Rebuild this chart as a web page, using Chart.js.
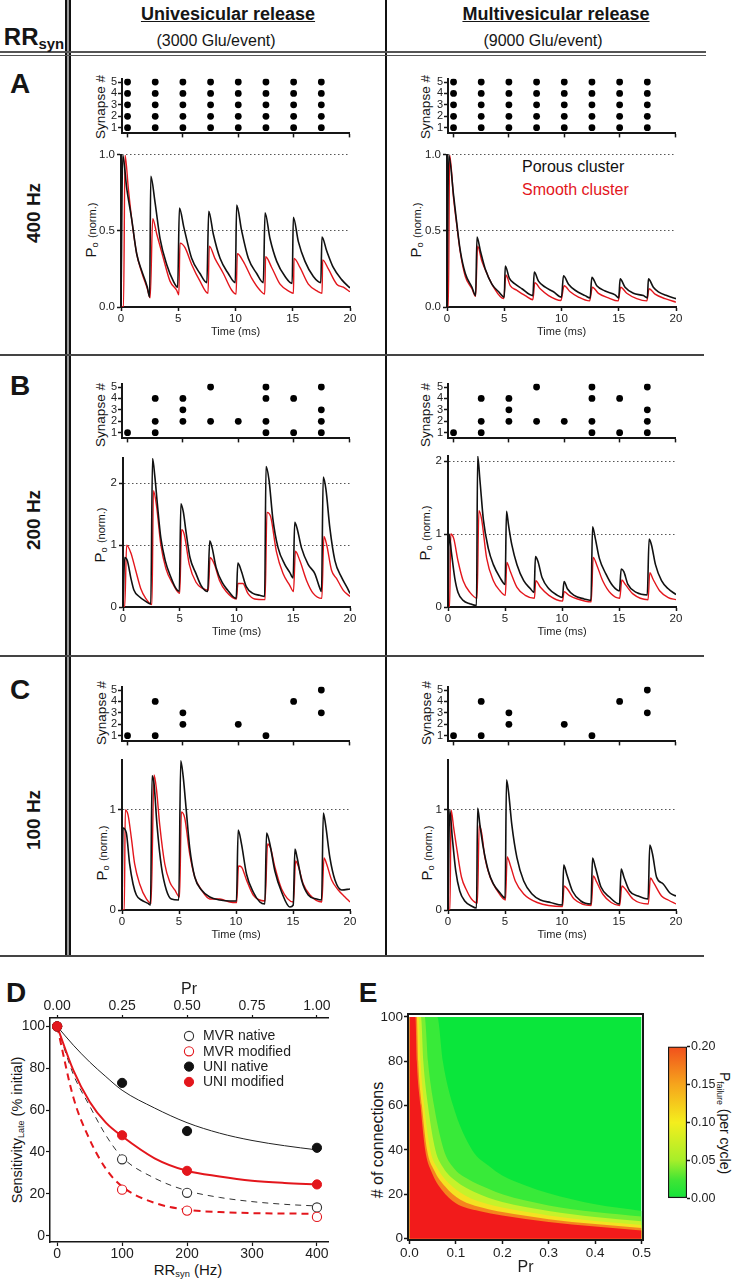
<!DOCTYPE html>
<html>
<head>
<meta charset="utf-8">
<script src="https://cdn.jsdelivr.net/npm/chart.js@4.4.1/dist/chart.umd.min.js"></script>
<style>
  body { margin: 0; background: #fff; }
  #fig { position: relative; width: 732px; height: 1280px; overflow: hidden; background: #fff;
         font-family: "Liberation Sans", Arial, sans-serif; color: #151515; }
  .box { position: absolute; }
  .c { position: absolute; transform: translate(-50%, -50%); white-space: nowrap; line-height: 1; }
  .c.up { transform: translate(-50%, -50%) rotate(-90deg); }
  .c.down { transform: translate(-50%, -50%) rotate(90deg); }
  .rule { position: absolute; }
  sub { font-size: 0.62em; vertical-align: -0.3em; line-height: 0; }
  .hd { font-weight: bold; font-size: 18px; text-decoration: underline; }
  .glu { font-size: 16px; }
  .panel { font-weight: bold; font-size: 28px; }
  .hz { font-weight: bold; font-size: 19px; }
  .syn { font-size: 13.5px; }
  .po { font-size: 15px; }
  .po small { font-size: 11px; }
  .leg { font-size: 16px; }
</style>
</head>
<body>
<div id="fig">
  <!-- table rules -->
  <div class="rule" style="left:65px;top:0;width:2px;height:956px;background:#111"></div>
  <div class="rule" style="left:67px;top:0;width:2px;height:956px;background:#999"></div>
  <div class="rule" style="left:69px;top:0;width:2px;height:956px;background:#111"></div>
  <div class="rule" style="left:385px;top:0;width:2px;height:956px;background:#111"></div>
  <div class="rule" style="left:0;top:51px;width:706px;height:1.5px;background:#555"></div>
  <div class="rule" style="left:0;top:54.5px;width:706px;height:1.5px;background:#555"></div>
  <div class="rule" style="left:0;top:354px;width:704px;height:2px;background:#444"></div>
  <div class="rule" style="left:0;top:655px;width:704px;height:2px;background:#444"></div>
  <div class="rule" style="left:0;top:955px;width:704px;height:2px;background:#444"></div>

  <!-- header -->
  <div class="c" style="left:34px;top:37px;font-weight:bold;font-size:24px">RR<sub>syn</sub></div>
  <div class="c hd" style="left:228px;top:14px">Univesicular release</div>
  <div class="c glu" style="left:216px;top:41px">(3000 Glu/event)</div>
  <div class="c hd" style="left:556px;top:14px">Multivesicular release</div>
  <div class="c glu" style="left:543px;top:41px">(9000 Glu/event)</div>

  <!-- row labels -->
  <div class="c panel" style="left:20px;top:84px">A</div>
  <div class="c up hz" style="left:33px;top:213px">400 Hz</div>
  <div class="c panel" style="left:20px;top:386px">B</div>
  <div class="c up hz" style="left:33px;top:520px">200 Hz</div>
  <div class="c panel" style="left:20px;top:690px">C</div>
  <div class="c up hz" style="left:33px;top:820px">100 Hz</div>

  <!-- axis titles of the trace panels -->
  <div class="c up syn" style="left:101px;top:107px">Synapse #</div>
  <div class="c up syn" style="left:426px;top:107px">Synapse #</div>
  <div class="c up syn" style="left:101px;top:415px">Synapse #</div>
  <div class="c up syn" style="left:426px;top:415px">Synapse #</div>
  <div class="c up syn" style="left:102px;top:713px">Synapse #</div>
  <div class="c up syn" style="left:427px;top:713px">Synapse #</div>
  <div class="c up po" style="left:90px;top:230px">P<sub>o</sub> <small>(norm.)</small></div>
  <div class="c up po" style="left:415px;top:230px">P<sub>o</sub> <small>(norm.)</small></div>
  <div class="c up po" style="left:99px;top:535px">P<sub>o</sub> <small>(norm.)</small></div>
  <div class="c up po" style="left:424px;top:533px">P<sub>o</sub> <small>(norm.)</small></div>
  <div class="c up po" style="left:101px;top:853px">P<sub>o</sub> <small>(norm.)</small></div>
  <div class="c up po" style="left:426px;top:853px">P<sub>o</sub> <small>(norm.)</small></div>

  <div class="leg" style="position:absolute;left:522px;top:158px;color:#111">Porous cluster</div>
  <div class="leg" style="position:absolute;left:522px;top:181px;color:#e3161c">Smooth cluster</div>

  <!-- panel D / E labels -->
  <div class="c panel" style="left:16px;top:993px">D</div>
  <div class="c up" style="left:17px;top:1130px;font-size:14.5px">Sensitivity<sub>Late</sub> (% initial)</div>
  <div class="c" style="left:188px;top:1269px;font-size:15px">RR<sub>syn</sub> (Hz)</div>
  <div class="c panel" style="left:368px;top:993px">E</div>
  <div class="c up" style="left:378px;top:1140px;font-size:16px"># of connections</div>
  <div class="c down" style="left:725px;top:1123px;font-size:14px">P<sub>failure</sub> (per cycle)</div>
</div>

<script>
// ---- values ----
const pulseTimes = [0, 2.5, 5, 7.5, 10, 12.5, 15, 17.5];
const synapseIds = [1, 2, 3, 4, 5];
const timeTicks = [0, 5, 10, 15, 20];

// which synapses release at each pulse
const release400 = [[1,2,3,4,5],[1,2,3,4,5],[1,2,3,4,5],[1,2,3,4,5],[1,2,3,4,5],[1,2,3,4,5],[1,2,3,4,5],[1,2,3,4,5]];
const release200 = [[1],[1,2,4],[2,3,4],[2,5],[2],[1,2,4,5],[1,4],[1,2,3,5]];
const release100 = [[1],[1,4],[2,3],[],[2],[1],[4],[3,5]];

// Po (norm.) traces, [time ms, value]
const uni400Porous = [[0,0],[0.15,1.0],[0.5,0.78],[0.93,0.58],[1.37,0.35],[1.8,0.24],[2.3,0.13],[2.5,0.065],[2.6,0.86],[2.97,0.69],[3.41,0.45],[3.99,0.28],[4.57,0.17],[4.95,0.13],[5.1,0.65],[5.5,0.52],[6.17,0.32],[6.9,0.22],[7.5,0.16],[7.66,0.63],[8.06,0.48],[8.65,0.32],[9.37,0.22],[9.98,0.16],[10.1,0.67],[10.54,0.5],[11.12,0.32],[11.85,0.22],[12.43,0.16],[12.58,0.62],[13.01,0.45],[13.6,0.3],[14.33,0.2],[14.95,0.155],[15.05,0.59],[15.49,0.43],[16.07,0.3],[16.8,0.2],[17.45,0.16],[17.55,0.46],[17.96,0.37],[18.54,0.26],[19.27,0.18],[20,0.125]];
const uni400Smooth = [[0,0],[0.22,0],[0.35,1.0],[0.64,0.78],[0.93,0.58],[1.37,0.35],[1.8,0.23],[2.3,0.12],[2.55,0.06],[2.77,0.58],[3.12,0.48],[3.7,0.32],[4.28,0.17],[4.86,0.11],[5.05,0.08],[5.15,0.42],[5.59,0.39],[6.17,0.28],[6.9,0.17],[7.6,0.09],[7.71,0.4],[8.2,0.32],[8.94,0.22],[9.67,0.11],[10.05,0.085],[10.16,0.35],[10.68,0.3],[11.41,0.19],[12.14,0.11],[12.55,0.085],[12.63,0.33],[13.16,0.26],[13.89,0.15],[14.76,0.1],[15.06,0.09],[15.11,0.32],[15.63,0.26],[16.36,0.15],[17.23,0.1],[17.56,0.09],[17.61,0.31],[18.11,0.25],[18.84,0.15],[19.42,0.13],[20,0.1]];
const mvr400Porous = [[0,0],[0.15,1.0],[0.58,0.73],[0.87,0.54],[1.16,0.37],[1.6,0.22],[2.18,0.13],[2.5,0.075],[2.62,0.46],[2.91,0.37],[3.34,0.25],[3.92,0.15],[4.51,0.1],[5.0,0.065],[5.09,0.27],[5.44,0.19],[5.96,0.15],[6.54,0.12],[7.5,0.075],[7.62,0.23],[7.99,0.17],[8.58,0.13],[9.3,0.1],[10.0,0.065],[10.17,0.205],[10.61,0.15],[11.19,0.11],[12.06,0.075],[12.5,0.06],[12.65,0.195],[13.08,0.14],[13.81,0.105],[14.68,0.08],[15.0,0.06],[15.12,0.185],[15.55,0.13],[16.28,0.09],[17.15,0.075],[17.5,0.06],[17.59,0.185],[18.02,0.13],[18.46,0.1],[19.19,0.075],[20,0.055]];
const mvr400Smooth = [[0,0],[0.12,0],[0.23,1.0],[0.58,0.71],[0.87,0.53],[1.16,0.36],[1.6,0.2],[2.18,0.12],[2.5,0.07],[2.67,0.4],[3.05,0.3],[3.49,0.22],[4.07,0.13],[4.95,0.055],[5.15,0.21],[5.52,0.14],[6.1,0.11],[6.83,0.075],[7.5,0.048],[7.67,0.16],[8.14,0.12],[8.87,0.075],[9.95,0.043],[10.23,0.14],[10.76,0.1],[11.48,0.065],[12.45,0.04],[12.7,0.13],[13.23,0.09],[14.1,0.06],[14.95,0.04],[15.17,0.13],[15.7,0.09],[16.57,0.055],[17.45,0.04],[17.65,0.12],[18.17,0.085],[19.04,0.055],[20,0.032]];

const uni200Porous = [[0,0],[0.15,0.8],[0.38,0.75],[0.68,0.48],[0.97,0.27],[1.42,0.17],[2.0,0.09],[2.45,0.05],[2.6,2.4],[2.8,2.12],[3.04,1.64],[3.33,1.12],[3.72,0.75],[4.22,0.48],[4.66,0.3],[4.96,0.25],[5.1,1.67],[5.31,1.54],[5.55,1.22],[5.9,0.8],[6.43,0.54],[6.87,0.35],[7.46,0.25],[7.64,1.07],[7.85,0.96],[8.2,0.64],[8.79,0.38],[9.23,0.27],[9.68,0.17],[9.97,0.14],[10.12,0.71],[10.41,0.59],[10.86,0.33],[11.45,0.22],[12.04,0.19],[12.48,0.17],[12.6,2.27],[12.86,2.06],[13.2,1.43],[13.66,0.96],[14.25,0.69],[14.69,0.56],[14.99,0.47],[15.13,1.37],[15.34,1.27],[15.72,0.96],[16.31,0.69],[16.9,0.54],[17.35,0.3],[17.49,0.25],[17.64,2.1],[17.88,1.9],[18.23,1.27],[18.67,0.75],[19.26,0.48],[19.7,0.33],[20,0.22]];
const uni200Smooth = [[0,0],[0.15,0],[0.32,1.0],[0.68,0.88],[1.12,0.59],[1.56,0.3],[2.0,0.14],[2.55,0.04],[2.68,1.88],[2.95,1.64],[3.33,1.01],[3.78,0.62],[4.37,0.38],[5.0,0.22],[5.16,1.25],[5.4,1.17],[5.84,0.69],[6.43,0.4],[7.02,0.3],[7.52,0.27],[7.67,0.8],[8.05,0.69],[8.5,0.43],[9.09,0.25],[10.0,0.13],[10.12,0.38],[10.56,0.38],[11.0,0.22],[11.6,0.13],[12.52,0.12],[12.68,1.53],[13.01,1.46],[13.51,0.9],[14.1,0.54],[14.69,0.35],[15.02,0.25],[15.19,0.9],[15.58,0.75],[16.17,0.43],[16.76,0.22],[17.52,0.14],[17.7,1.14],[17.94,1.01],[18.38,0.59],[18.82,0.46],[19.41,0.27],[20,0.17]];
const mvr200Porous = [[0,0],[0.09,1.0],[0.29,0.76],[0.59,0.4],[0.88,0.2],[1.33,0.09],[1.92,0.045],[2.5,0.02],[2.6,2.07],[2.8,1.74],[3.1,1.2],[3.54,0.8],[3.98,0.58],[4.57,0.4],[5.01,0.31],[5.13,1.31],[5.31,1.12],[5.6,0.85],[6.05,0.58],[6.64,0.36],[7.23,0.25],[7.55,0.2],[7.67,0.69],[7.88,0.63],[8.26,0.4],[8.85,0.25],[9.59,0.16],[10.03,0.13],[10.18,0.35],[10.47,0.25],[11.06,0.16],[11.95,0.11],[12.54,0.09],[12.68,1.1],[12.92,0.94],[13.27,0.67],[13.86,0.45],[14.45,0.29],[15.04,0.22],[15.19,0.52],[15.43,0.48],[15.78,0.31],[16.52,0.2],[17.48,0.165],[17.64,0.93],[17.85,0.85],[18.2,0.58],[18.73,0.36],[19.32,0.25],[20,0.17]];
const mvr200Smooth = [[0,0],[0.14,0],[0.24,1.0],[0.5,0.94],[0.88,0.63],[1.33,0.36],[1.92,0.2],[2.55,0.12],[2.71,1.32],[2.95,1.2],[3.39,0.67],[3.98,0.36],[4.57,0.22],[5.03,0.16],[5.16,0.61],[5.46,0.49],[6.05,0.27],[6.78,0.16],[7.58,0.12],[7.7,0.36],[8.11,0.27],[8.85,0.16],[10.05,0.08],[10.18,0.21],[10.62,0.16],[11.36,0.11],[12.56,0.07],[12.74,0.68],[13.04,0.58],[13.57,0.36],[14.31,0.18],[15.06,0.12],[15.25,0.37],[15.55,0.31],[16.22,0.18],[17.55,0.1],[17.7,0.47],[17.99,0.38],[18.58,0.22],[19.32,0.13],[20,0.1]];

const uni100Porous = [[0,0],[0.09,0.82],[0.38,0.77],[0.67,0.46],[0.97,0.26],[1.26,0.15],[1.7,0.1],[2.28,0.066],[2.5,0.05],[2.64,1.34],[2.81,1.26],[3.07,0.85],[3.46,0.43],[3.89,0.2],[4.33,0.11],[4.98,0.1],[5.15,1.49],[5.36,1.34],[5.65,0.98],[5.94,0.62],[6.38,0.33],[6.97,0.2],[7.7,0.13],[8.58,0.1],[9.46,0.09],[10.04,0.09],[10.19,0.8],[10.48,0.66],[10.92,0.36],[11.51,0.18],[12.09,0.08],[12.53,0.06],[12.68,0.77],[12.97,0.66],[13.41,0.39],[14.0,0.18],[14.73,0.03],[15.02,0.05],[15.17,0.61],[15.37,0.52],[15.75,0.3],[16.34,0.15],[17.07,0.11],[17.51,0.1],[17.66,0.97],[17.86,0.85],[18.24,0.52],[18.68,0.3],[19.27,0.2],[20,0.21]];
const uni100Smooth = [[0,0],[0.2,0],[0.29,1.0],[0.53,0.95],[0.82,0.72],[1.11,0.46],[1.55,0.26],[2.14,0.11],[2.55,0.066],[2.81,1.35],[3.02,1.21],[3.31,0.85],[3.75,0.46],[4.19,0.28],[4.63,0.2],[5.05,0.13],[5.21,0.98],[5.5,0.92],[5.94,0.56],[6.38,0.33],[6.97,0.2],[7.7,0.11],[8.58,0.11],[9.46,0.08],[10.06,0.075],[10.22,0.44],[10.48,0.43],[10.92,0.3],[11.51,0.15],[12.55,0.09],[12.77,0.66],[13.03,0.62],[13.41,0.43],[14.0,0.21],[15.04,0.08],[15.23,0.49],[15.46,0.44],[15.9,0.26],[16.49,0.15],[17.53,0.08],[17.72,0.52],[17.95,0.46],[18.39,0.3],[18.97,0.2],[19.56,0.13],[20,0.08]];
const mvr100Porous = [[0,0],[0.15,1.0],[0.38,0.72],[0.68,0.39],[1.03,0.19],[1.47,0.09],[2.06,0.04],[2.5,0.02],[2.6,1.02],[2.8,0.85],[3.1,0.62],[3.54,0.39],[3.98,0.26],[4.57,0.17],[5.01,0.12],[5.13,1.3],[5.31,1.18],[5.6,0.85],[6.05,0.52],[6.64,0.29],[7.37,0.16],[8.11,0.1],[8.99,0.075],[10.03,0.05],[10.15,0.45],[10.41,0.36],[10.91,0.19],[11.65,0.09],[12.54,0.06],[12.68,0.52],[12.92,0.43],[13.42,0.23],[14.16,0.13],[15.04,0.06],[15.19,0.41],[15.43,0.33],[15.93,0.19],[16.67,0.14],[17.55,0.11],[17.7,0.65],[17.94,0.56],[18.29,0.33],[18.88,0.26],[19.47,0.17],[20,0.14]];
const mvr100Smooth = [[0,0],[0.17,0],[0.27,1.0],[0.5,0.82],[0.8,0.59],[1.18,0.33],[1.62,0.2],[2.06,0.11],[2.58,0.07],[2.74,0.85],[2.95,0.77],[3.24,0.52],[3.69,0.33],[4.28,0.2],[5.04,0.1],[5.19,0.53],[5.46,0.45],[5.9,0.29],[6.64,0.16],[7.82,0.075],[10.05,0.035],[10.18,0.24],[10.47,0.21],[11.06,0.11],[12.57,0.045],[12.74,0.34],[13.04,0.28],[13.57,0.16],[14.31,0.075],[15.06,0.045],[15.25,0.24],[15.55,0.21],[16.22,0.11],[17.57,0.06],[17.76,0.32],[18.05,0.27],[18.73,0.14],[19.32,0.1],[20,0.06]];

// panel D
const rrSyn = [0, 100, 200, 400];
const mvrNative = [100, 36.5, 20.5, 13.5];
const mvrModified = [100, 22, 12, 9];
const uniNative = [100, 73, 50, 42];
const uniModified = [100, 48, 31, 24.5];
const fitRR = [0, 25, 50, 75, 100, 150, 200, 250, 300, 350, 400];
const uniNativeFit = [100, 91, 83, 76, 69.5, 61, 54, 49, 45.5, 43, 41];
const uniModifiedFit = [100, 79, 64, 54, 47.5, 37, 31, 28.3, 26.3, 25.2, 24.5];
const mvrNativeFit = [100, 77, 62, 48, 37.5, 27.5, 21.5, 18.3, 16.3, 15, 14.2];
const mvrModifiedFit = [100, 66, 46, 32, 23.5, 15.7, 12.4, 11.3, 10.8, 10.6, 10.5];
const rrTicks = [0, 100, 200, 300, 400];
const prTicks = [0, 0.25, 0.5, 0.75, 1];
const sensTicks = [0, 20, 40, 60, 80, 100];

// panel E: iso-P_failure boundaries, [Pr, # of connections]
const edge020 = [[0,100],[0.013,100],[0.016,80],[0.024,60],[0.034,40],[0.048,30],[0.07,22],[0.1,16],[0.15,12.5],[0.2,10.5],[0.3,7.5],[0.4,5.5],[0.5,3.7]];
const edge015 = [[0,100],[0.016,100],[0.019,80],[0.027,60],[0.038,40],[0.053,31],[0.077,23.5],[0.11,17.5],[0.16,13.8],[0.2,12],[0.3,8.8],[0.4,6.6],[0.5,4.8]];
const edge010 = [[0,100],[0.02,100],[0.024,80],[0.032,60],[0.045,40],[0.06,32],[0.085,25],[0.12,19.5],[0.17,15.5],[0.2,14],[0.3,10.5],[0.4,8],[0.5,6.2]];
const edge006 = [[0,100],[0.025,100],[0.03,80],[0.04,60],[0.056,40],[0.073,32],[0.1,26],[0.14,21],[0.2,16.5],[0.3,12.5],[0.4,9.8],[0.5,7.8]];
const edge003 = [[0,100],[0.033,100],[0.04,80],[0.053,60],[0.074,40],[0.095,32],[0.125,27],[0.17,22.5],[0.2,20],[0.3,15],[0.4,12],[0.5,10]];
const edge001 = [[0,100],[0.06,100],[0.072,80],[0.094,60],[0.135,40],[0.17,33],[0.2,28.5],[0.25,24],[0.3,20.5],[0.4,15.5],[0.5,12.5]];
const edgeAll = [[0,100],[0.5,100]];
const prTicksE = [0, 0.1, 0.2, 0.3, 0.4, 0.5];
const connTicks = [0, 20, 40, 60, 80, 100];
const failTicks = [0, 0.05, 0.1, 0.15, 0.2];

// ---- drawing ----
Chart.defaults.font.family = '"Liberation Sans", Arial, sans-serif';
Chart.defaults.color = '#1e1e1e';
Chart.defaults.animation = false;
Chart.defaults.plugins.legend.display = false;
Chart.defaults.plugins.tooltip.enabled = false;

const fig = document.getElementById('fig');
const ink = '#161616';
const red = '#e3161c';
const fixedTicks = vals => s => { s.ticks = vals.map(v => ({ value: v })); };
const xy = arr => arr.map(p => ({ x: p[0], y: p[1] }));
const pair = (xs, ys) => xs.map((x, i) => ({ x: x, y: ys[i] }));

// area = [left, right, top, bottom] of the plot area in page pixels
function mount(area, m, pad, config) {
  const div = document.createElement('div');
  div.className = 'box';
  div.style.left = (area[0] - m.l) + 'px';
  div.style.top = (area[2] - m.t) + 'px';
  div.style.width = (area[1] - area[0] + m.l + m.r) + 'px';
  div.style.height = (area[3] - area[2] + m.t + m.b) + 'px';
  const canvas = document.createElement('canvas');
  div.appendChild(canvas);
  fig.appendChild(div);
  config.options.responsive = true;
  config.options.maintainAspectRatio = false;
  config.options.layout = { autoPadding: false, padding: pad };
  return new Chart(canvas, config);
}

function rasterChart(area, release) {
  const dots = [];
  release.forEach((ids, i) => ids.forEach(id => dots.push({ x: pulseTimes[i], y: id })));
  return mount(area, { l: 45, r: 12, t: 4, b: 6 }, { top: 4, right: 12, left: 0, bottom: 0 }, {
    type: 'scatter',
    data: { datasets: [{ data: dots, backgroundColor: '#000', borderWidth: 0, pointRadius: 3.4 }] },
    options: {
      scales: {
        x: { type: 'linear', min: -0.5, max: 20, afterBuildTicks: fixedTicks(timeTicks), afterFit: s => { s.height = 6; },
             grid: { drawOnChartArea: false, tickLength: 4, tickColor: ink, tickWidth: 1.5 },
             border: { color: ink, width: 2 }, ticks: { display: false } },
        y: { min: 0.5, max: 5.3, afterBuildTicks: fixedTicks(synapseIds), afterFit: s => { s.width = 45; },
             grid: { drawOnChartArea: false, tickLength: 4, tickColor: ink, tickWidth: 1.5 },
             border: { color: ink, width: 2 },
             ticks: { padding: 1, color: '#222', font: { size: 11 }, autoSkip: false } }
      }
    }
  });
}

function traceChart(area, yMax, yTicks, dotted, fmt, porous, smooth) {
  return mount(area, { l: 45, r: 12, t: 6, b: 32 }, { top: 6, right: 12, left: 0, bottom: 0 }, {
    type: 'line',
    data: { datasets: [
      { label: 'Porous cluster', data: xy(porous), borderColor: '#111', borderWidth: 1.6 },
      { label: 'Smooth cluster', data: xy(smooth), borderColor: red, borderWidth: 1.4 }
    ] },
    options: {
      elements: { point: { radius: 0 }, line: { cubicInterpolationMode: 'monotone' } },
      scales: {
        x: { type: 'linear', min: 0, max: 20, afterBuildTicks: fixedTicks(timeTicks), afterFit: s => { s.height = 32; },
             grid: { drawOnChartArea: false, tickLength: 4, tickColor: ink, tickWidth: 1.5 },
             border: { color: ink, width: 2 },
             ticks: { padding: 1, color: '#222', font: { size: 11.5 }, maxRotation: 0, autoSkip: false },
             title: { display: true, text: 'Time (ms)', color: '#222', font: { size: 11 }, padding: 0 } },
        y: { min: 0, max: yMax, afterBuildTicks: fixedTicks(yTicks), afterFit: s => { s.width = 45; },
             grid: { color: c => (c.tick && dotted.includes(c.tick.value)) ? '#555' : 'rgba(0,0,0,0)',
                     lineWidth: 1, tickLength: 4, tickColor: ink, tickWidth: 1.5 },
             border: { color: ink, width: 2, dash: [1.5, 2.5] },
             ticks: { padding: 2, color: '#222', font: { size: 11.5 }, callback: fmt, autoSkip: false } }
      }
    }
  });
}

const oneDec = v => v.toFixed(1);
const plain = v => String(v);

rasterChart([122, 349, 75, 135], release400);
rasterChart([448, 675, 75, 135], release400);
traceChart([121, 350, 152, 307], 1.0, [0, 0.5, 1], [0.5, 1], oneDec, uni400Porous, uni400Smooth);
traceChart([447, 676, 152, 307], 1.0, [0, 0.5, 1], [0.5, 1], oneDec, mvr400Porous, mvr400Smooth);

rasterChart([122, 349, 380, 440], release200);
rasterChart([448, 675, 380, 440], release200);
traceChart([123, 350, 455, 607], 2.41, [0, 1, 2], [1, 2], plain, uni200Porous, uni200Smooth);
traceChart([448, 676, 453, 607], 2.07, [0, 1, 2], [1, 2], plain, mvr200Porous, mvr200Smooth);

rasterChart([122, 349, 683, 743], release100);
rasterChart([448, 675, 683, 743], release100);
traceChart([122, 350, 757, 910], 1.5, [0, 1], [1], plain, uni100Porous, uni100Smooth);
traceChart([448, 676, 757, 910], 1.5, [0, 1], [1], plain, mvr100Porous, mvr100Smooth);

// legend drawn inside panel D
const insideLegend = {
  id: 'insideLegend',
  afterDraw(chart, args, opts) {
    const { ctx, chartArea } = chart;
    ctx.save();
    opts.items.forEach((idx, i) => {
      const ds = chart.data.datasets[idx];
      const x = chartArea.left + opts.dx, y = chartArea.top + opts.dy + i * opts.gap;
      ctx.beginPath();
      ctx.arc(x, y, ds.pointRadius, 0, Math.PI * 2);
      ctx.fillStyle = ds.backgroundColor; ctx.fill();
      ctx.lineWidth = ds.borderWidth; ctx.strokeStyle = ds.borderColor; ctx.stroke();
      ctx.fillStyle = '#1e1e1e';
      ctx.font = '14px "Liberation Sans", Arial, sans-serif';
      ctx.textBaseline = 'middle';
      ctx.fillText(ds.label, x + 14, y + 0.5);
    });
    ctx.restore();
  }
};

const dot = (label, ys, color, open) => ({
  label: label, data: pair(rrSyn, ys), showLine: false, pointRadius: 4.6,
  backgroundColor: open ? '#fff' : color, borderColor: color, borderWidth: open ? 1.1 : 1
});
const fit = (ys, color, width, dash) => ({
  data: pair(fitRR, ys), borderColor: color, borderWidth: width, borderDash: dash, pointRadius: 0,
  cubicInterpolationMode: 'monotone'
});

mount([50, 328, 1018, 1242], { l: 50, r: 10, t: 45, b: 38 }, { top: 0, right: 10, left: 0, bottom: 0 }, {
  type: 'line',
  data: { datasets: [
    dot('UNI modified', uniModified, red, false),
    dot('UNI native', uniNative, '#111', false),
    dot('MVR modified', mvrModified, red, true),
    dot('MVR native', mvrNative, '#333', true),
    fit(uniModifiedFit, red, 2, []),
    fit(uniNativeFit, '#222', 1, []),
    fit(mvrModifiedFit, red, 2, [7, 5]),
    fit(mvrNativeFit, '#333', 1, [6, 5])
  ] },
  options: {
    plugins: { insideLegend: { items: [3, 2, 1, 0], dx: 139, dy: 18, gap: 15.3 } },
    scales: {
      x: { type: 'linear', position: 'bottom', min: -11, max: 417, afterBuildTicks: fixedTicks(rrTicks),
           afterFit: s => { s.height = 38; },
           grid: { drawOnChartArea: false, tickLength: 4, tickColor: ink, tickWidth: 1.2 },
           border: { color: ink, width: 1.5 }, ticks: { padding: 0, font: { size: 14 }, maxRotation: 0, autoSkip: false } },
      x2: { type: 'linear', position: 'top', min: -11 / 400, max: 417 / 400, afterBuildTicks: fixedTicks(prTicks),
            afterFit: s => { s.height = 45; },
            grid: { drawOnChartArea: false, tickLength: 3, tickColor: ink, tickWidth: 1.2 },
            border: { color: ink, width: 1.5 },
            ticks: { padding: 0, font: { size: 14 }, maxRotation: 0, autoSkip: false, callback: v => v.toFixed(2) },
            title: { display: true, text: 'Pr', font: { size: 16 }, padding: { top: 7, bottom: 0 } } },
      y: { min: -3, max: 104, afterBuildTicks: fixedTicks(sensTicks), afterFit: s => { s.width = 50; },
           grid: { drawOnChartArea: false, tickLength: 4, tickColor: ink, tickWidth: 1.2 },
           border: { color: ink, width: 1.5 }, ticks: { padding: 1, font: { size: 14 }, autoSkip: false } }
    }
  },
  plugins: [insideLegend]
});

// panel E: filled bands, the lowest failure probability drawn first
const band = (edge, color) => ({
  data: xy(edge), fill: 'origin', backgroundColor: color, borderWidth: 0, pointRadius: 0,
  cubicInterpolationMode: 'monotone'
});
const frameAxis = { display: true, grid: { display: false, drawTicks: false }, ticks: { display: false },
                    border: { color: ink, width: 2 } };

mount([408, 644, 1014, 1240], { l: 36, r: 8, t: 10, b: 37 }, { top: 10, right: 8, left: 0, bottom: 0 }, {
  type: 'line',
  data: { datasets: [
    band(edge020, '#f21b1b'),
    band(edge015, '#f5841e'),
    band(edge010, '#f4e222'),
    band(edge006, '#c6f22b'),
    band(edge003, '#78ee33'),
    band(edge001, '#38ea39'),
    band(edgeAll, '#0ae63b')
  ] },
  options: {
    scales: {
      x: { type: 'linear', min: -0.003, max: 0.503, afterBuildTicks: fixedTicks(prTicksE), afterFit: s => { s.height = 37; },
           grid: { drawOnChartArea: false, tickLength: 4, tickColor: ink, tickWidth: 1.5 },
           border: { color: ink, width: 2 },
           ticks: { padding: 1, font: { size: 13.5 }, maxRotation: 0, autoSkip: false, callback: v => v.toFixed(1) },
           title: { display: true, text: 'Pr', font: { size: 16 }, padding: 0 } },
      y: { min: -0.6, max: 101.3, afterBuildTicks: fixedTicks(connTicks), afterFit: s => { s.width = 36; },
           grid: { drawOnChartArea: false, tickLength: 4, tickColor: ink, tickWidth: 1.5 },
           border: { color: ink, width: 2 }, ticks: { padding: 1, font: { size: 13.5 }, autoSkip: false } },
      x2: Object.assign({ type: 'linear', position: 'top', min: 0, max: 1, afterFit: s => { s.height = 0; } }, frameAxis),
      y2: Object.assign({ type: 'linear', position: 'right', min: 0, max: 1, afterFit: s => { s.width = 0; } }, frameAxis)
    }
  }
});

// colour bar
const cbarStops = [[0, '#12e23a'], [0.12, '#3fe535'], [0.25, '#a6ee2a'], [0.5, '#f4ee1d'], [0.75, '#f6a51c'], [1, '#f14f1c']];
mount([668, 687, 1046, 1199], { l: 2, r: 42, t: 8, b: 8 }, { top: 8, right: 0, left: 2, bottom: 8 }, {
  type: 'bar',
  data: { labels: [''], datasets: [{
    data: [[0, 0.2]], barPercentage: 1, categoryPercentage: 1, borderSkipped: false,
    borderWidth: 1.5, borderColor: ink,
    backgroundColor: c => {
      const a = c.chart.chartArea;
      if (!a) return '#ccc';
      const g = c.chart.ctx.createLinearGradient(0, a.bottom, 0, a.top);
      cbarStops.forEach(s => g.addColorStop(s[0], s[1]));
      return g;
    }
  }] },
  options: {
    scales: {
      x: { display: false },
      y: { position: 'right', min: 0, max: 0.2, afterBuildTicks: fixedTicks(failTicks), afterFit: s => { s.width = 42; },
           grid: { drawOnChartArea: false, tickLength: 3, tickColor: ink, tickWidth: 1.5 },
           border: { display: false },
           ticks: { padding: 1, font: { size: 12.5 }, autoSkip: false, callback: v => v.toFixed(2) } }
    }
  }
});
</script>
</body>
</html>
